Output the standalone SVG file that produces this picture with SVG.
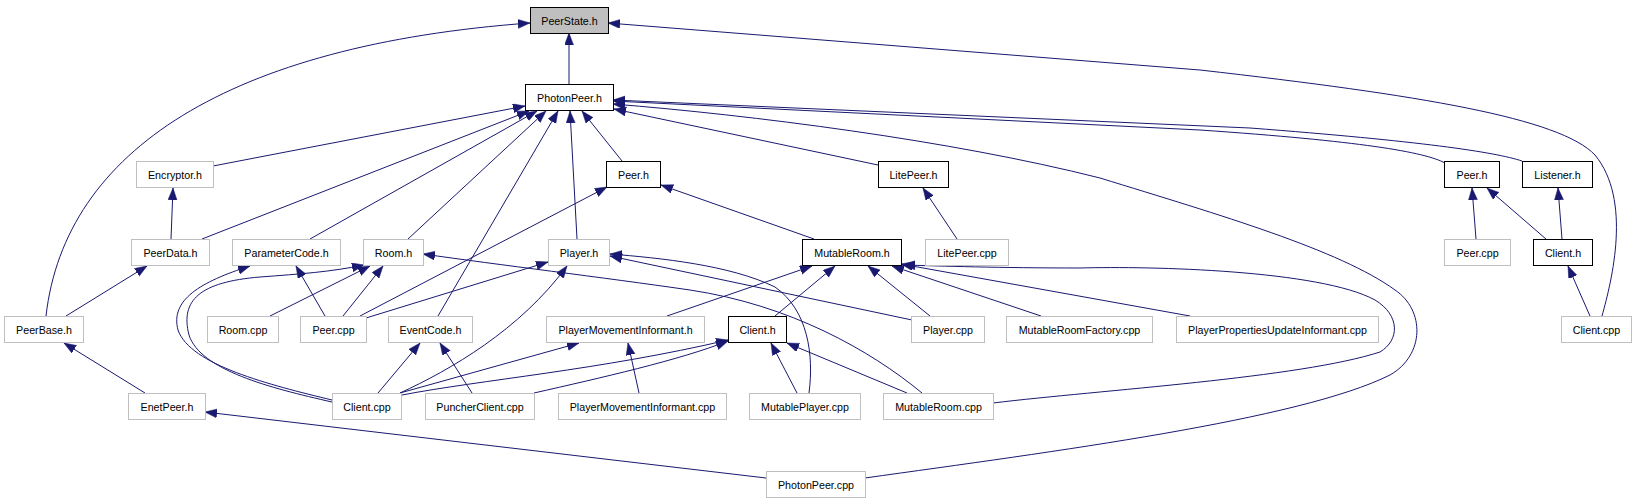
<svg xmlns="http://www.w3.org/2000/svg" width="1636" height="504" viewBox="0 0 1636 504">
<style>
.b{fill:#fff;stroke:#bfbfbf;stroke-width:1}
.k{fill:#fff;stroke:#000;stroke-width:1}
.r{fill:#bfbfbf;stroke:#000;stroke-width:1}
text{font-family:"Liberation Sans",Arial,sans-serif;font-size:10.7px;fill:#000;text-anchor:middle}
.e{fill:none;stroke:#191970;stroke-width:1;marker-end:url(#ah)}
</style>
<defs>
<marker id="ah" markerUnits="userSpaceOnUse" markerWidth="14" markerHeight="12" refX="12" refY="4.5" orient="auto">
<path d="M0,0 L12,4.5 L0,9 z" fill="#191970" stroke="#191970" stroke-width="0.5"/>
</marker>
</defs>
<rect width="1636" height="504" fill="#fff"/>
<g id="edges">
<path class="e" d="M569,84 L569,33"/>
<path class="e" d="M46,316 C65,150 230,45 530,23"/>
<path class="e" d="M1602,316 C1612,280 1632,200 1595,155 C1560,118 1420,95 1200,70 L608,23"/>
<path class="e" d="M213,166 L525,106"/>
<path class="e" d="M202,239 L529,111"/>
<path class="e" d="M310,239 L537,111"/>
<path class="e" d="M408,239 L546,111"/>
<path class="e" d="M438,316 L558,111"/>
<path class="e" d="M577,239 L570,111"/>
<path class="e" d="M622,161 L582,111"/>
<path class="e" d="M878,165 L614,109"/>
<path class="e" d="M1445,163 C1425,152 1360,141 1200,130 L613,101"/>
<path class="e" d="M1522,161 C1495,152 1420,141 1250,128 L613,100"/>
<path class="e" d="M865,478 C1050,452 1300,420 1390,375 C1425,355 1425,310 1395,290 C1340,250 1220,215 1100,178 C950,140 750,115 613,104"/>
<path class="e" d="M171,239 L173,188"/>
<path class="e" d="M66,316 L147,266"/>
<path class="e" d="M145,393 L64,343"/>
<path class="e" d="M766,478 L205,412"/>
<path class="e" d="M360,316 L607,187"/>
<path class="e" d="M814,239 L661,185"/>
<path class="e" d="M957,239 L923,188"/>
<path class="e" d="M1476,239 L1472,188"/>
<path class="e" d="M1546,239 L1487,188"/>
<path class="e" d="M1562,239 L1558,188"/>
<path class="e" d="M1590,316 L1568,266"/>
<path class="e" d="M332,400 C270,385 190,365 178,330 C170,300 200,282 250,266"/>
<path class="e" d="M332,402 C270,388 200,370 189,335 C180,300 200,282 260,277 C300,274 330,272 364,265"/>
<path class="e" d="M325,316 L296,266"/>
<path class="e" d="M270,316 L370,266"/>
<path class="e" d="M343,316 L383,266"/>
<path class="e" d="M922,393 C870,350 790,305 690,290 C600,277 500,265 423,254"/>
<path class="e" d="M366,318 L548,262"/>
<path class="e" d="M400,393 C450,370 520,330 567,266"/>
<path class="e" d="M912,320 L610,256"/>
<path class="e" d="M809,393 C814,355 808,310 775,287 C730,265 660,258 610,254"/>
<path class="e" d="M378,393 L420,343"/>
<path class="e" d="M472,393 L440,343"/>
<path class="e" d="M400,393 L579,343"/>
<path class="e" d="M639,393 L628,343"/>
<path class="e" d="M402,395 C480,380 600,370 728,340"/>
<path class="e" d="M534,393 C600,378 680,360 728,341"/>
<path class="e" d="M797,393 L771,343"/>
<path class="e" d="M907,393 L787,343"/>
<path class="e" d="M667,316 L812,266"/>
<path class="e" d="M775,316 L835,266"/>
<path class="e" d="M930,316 L868,266"/>
<path class="e" d="M1041,316 L892,266"/>
<path class="e" d="M1190,316 L901,264"/>
<path class="e" d="M993,403 C1100,390 1300,378 1380,352 C1400,340 1400,315 1375,300 C1320,270 1150,266 1080,268 C1000,268 940,266 903,265"/>
</g>
<g id="n_PeerState_h"><rect class="r" x="530.5" y="7.5" width="78" height="26"/><text x="569.5" y="24.5">PeerState.h</text></g>
<g id="n_PhotonPeer_h"><rect class="k" x="525.5" y="84.5" width="88" height="26"/><text x="569.5" y="101.5">PhotonPeer.h</text></g>
<g id="n_Encryptor_h"><rect class="b" x="136.5" y="161.5" width="77" height="26"/><text x="175" y="178.5">Encryptor.h</text></g>
<g id="n_Peer_h_1"><rect class="k" x="606.5" y="161.5" width="54" height="26"/><text x="633.5" y="178.5">Peer.h</text></g>
<g id="n_LitePeer_h"><rect class="k" x="878.5" y="161.5" width="70" height="26"/><text x="913.5" y="178.5">LitePeer.h</text></g>
<g id="n_Peer_h_2"><rect class="k" x="1444.5" y="161.5" width="55" height="26"/><text x="1472" y="178.5">Peer.h</text></g>
<g id="n_Listener_h"><rect class="k" x="1522.5" y="161.5" width="70" height="26"/><text x="1557.5" y="178.5">Listener.h</text></g>
<g id="n_PeerData_h"><rect class="b" x="131.5" y="239.5" width="78" height="26"/><text x="170.5" y="256.5">PeerData.h</text></g>
<g id="n_ParameterCode_h"><rect class="b" x="232.5" y="239.5" width="108" height="26"/><text x="286.5" y="256.5">ParameterCode.h</text></g>
<g id="n_Room_h"><rect class="b" x="363.5" y="239.5" width="60" height="26"/><text x="393.5" y="256.5">Room.h</text></g>
<g id="n_Player_h"><rect class="b" x="548.5" y="239.5" width="61" height="26"/><text x="579" y="256.5">Player.h</text></g>
<g id="n_MutableRoom_h"><rect class="k" x="802.5" y="239.5" width="99" height="26"/><text x="852" y="256.5">MutableRoom.h</text></g>
<g id="n_LitePeer_cpp"><rect class="b" x="925.5" y="239.5" width="83" height="26"/><text x="967" y="256.5">LitePeer.cpp</text></g>
<g id="n_Peer_cpp_2"><rect class="b" x="1444.5" y="239.5" width="66" height="26"/><text x="1477.5" y="256.5">Peer.cpp</text></g>
<g id="n_Client_h_2"><rect class="k" x="1533.5" y="239.5" width="59" height="26"/><text x="1563" y="256.5">Client.h</text></g>
<g id="n_PeerBase_h"><rect class="b" x="4.5" y="316.5" width="79" height="26"/><text x="44" y="333.5">PeerBase.h</text></g>
<g id="n_Room_cpp"><rect class="b" x="207.5" y="316.5" width="71" height="26"/><text x="243" y="333.5">Room.cpp</text></g>
<g id="n_Peer_cpp_1"><rect class="b" x="300.5" y="316.5" width="66" height="26"/><text x="333.5" y="333.5">Peer.cpp</text></g>
<g id="n_EventCode_h"><rect class="b" x="388.5" y="316.5" width="84" height="26"/><text x="430.5" y="333.5">EventCode.h</text></g>
<g id="n_PlayerMovementInformant_h"><rect class="b" x="546.5" y="316.5" width="158" height="26"/><text x="625.5" y="333.5">PlayerMovementInformant.h</text></g>
<g id="n_Client_h_1"><rect class="k" x="728.5" y="316.5" width="58" height="26"/><text x="757.5" y="333.5">Client.h</text></g>
<g id="n_Player_cpp"><rect class="b" x="911.5" y="316.5" width="73" height="26"/><text x="948" y="333.5">Player.cpp</text></g>
<g id="n_MutableRoomFactory_cpp"><rect class="b" x="1006.5" y="316.5" width="146" height="26"/><text x="1079.5" y="333.5">MutableRoomFactory.cpp</text></g>
<g id="n_PlayerPropertiesUpdateInformant_cpp"><rect class="b" x="1176.5" y="316.5" width="202" height="26"/><text x="1277.5" y="333.5">PlayerPropertiesUpdateInformant.cpp</text></g>
<g id="n_Client_cpp_2"><rect class="b" x="1561.5" y="316.5" width="70" height="26"/><text x="1596.5" y="333.5">Client.cpp</text></g>
<g id="n_EnetPeer_h"><rect class="b" x="128.5" y="393.5" width="77" height="26"/><text x="167" y="410.5">EnetPeer.h</text></g>
<g id="n_Client_cpp_1"><rect class="b" x="332.5" y="393.5" width="69" height="26"/><text x="367" y="410.5">Client.cpp</text></g>
<g id="n_PuncherClient_cpp"><rect class="b" x="425.5" y="393.5" width="109" height="26"/><text x="480" y="410.5">PuncherClient.cpp</text></g>
<g id="n_PlayerMovementInformant_cpp"><rect class="b" x="558.5" y="393.5" width="168" height="26"/><text x="642.5" y="410.5">PlayerMovementInformant.cpp</text></g>
<g id="n_MutablePlayer_cpp"><rect class="b" x="749.5" y="393.5" width="111" height="26"/><text x="805" y="410.5">MutablePlayer.cpp</text></g>
<g id="n_MutableRoom_cpp"><rect class="b" x="883.5" y="393.5" width="110" height="26"/><text x="938.5" y="410.5">MutableRoom.cpp</text></g>
<g id="n_PhotonPeer_cpp"><rect class="b" x="766.5" y="471.5" width="99" height="26"/><text x="816" y="488.5">PhotonPeer.cpp</text></g>
</svg>
